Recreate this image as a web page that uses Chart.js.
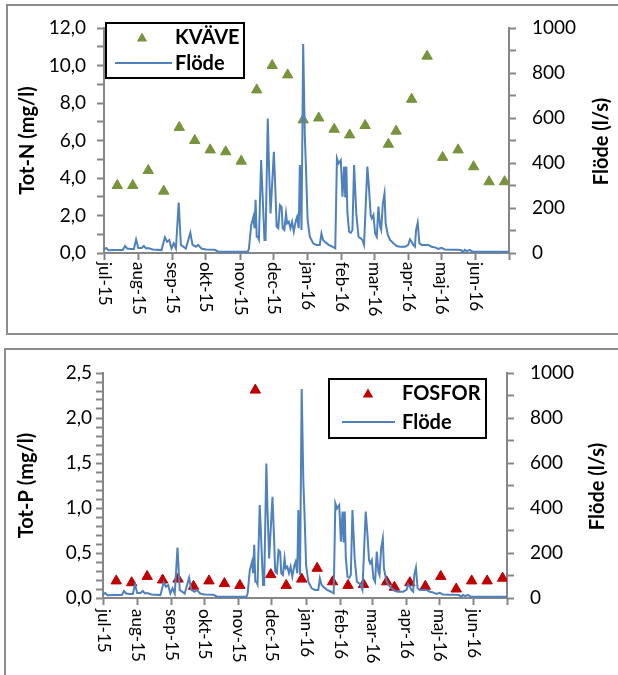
<!DOCTYPE html>
<html>
<head>
<meta charset="utf-8">
<script src="https://cdn.jsdelivr.net/npm/chart.js@4.4.1/dist/chart.umd.min.js"></script>
<style>
  html, body { margin: 0; padding: 0; background: #fff; }
  body { width: 618px; height: 675px; overflow: hidden; position: relative; }
  .panel { position: absolute; box-sizing: border-box; border: 2px solid #8c8c8c; }
  #p1 { left: 6px; top: 4px; width: 660px; height: 331px; }
  #p2 { left: 4px; top: 348px; width: 660px; height: 400px; }
  canvas { position: absolute; left: 0; }
  #c1 { top: 0; }
  #c2 { top: 340px; }
</style>
</head>
<body>
<div class="panel" id="p1"></div>
<div class="panel" id="p2"></div>
<canvas id="c1" width="618" height="340"></canvas>
<canvas id="c2" width="618" height="335"></canvas>
<script>
// provtagningar (varannan vecka)
const provDatum = [
  '2015-07-13', '2015-07-27', '2015-08-10', '2015-08-24', '2015-09-07', '2015-09-21',
  '2015-10-05', '2015-10-19', '2015-11-02', '2015-11-16', '2015-11-30', '2015-12-14',
  '2015-12-28', '2016-01-11', '2016-01-25', '2016-02-08', '2016-02-22', '2016-03-14',
  '2016-03-21', '2016-04-04', '2016-04-18', '2016-05-02', '2016-05-16', '2016-05-30',
  '2016-06-13', '2016-06-27'
];
const kvave = [3.6, 3.6, 4.4, 3.3, 6.7, 6.0, 5.5, 5.4, 4.9, 8.7, 10.0, 9.5, 7.1,
  7.2, 6.6, 6.3, 6.8, 5.8, 6.5, 8.2, 10.5, 5.1, 5.5, 4.6, 3.8, 3.8];
const fosfor = [0.19, 0.17, 0.24, 0.20, 0.21, 0.13, 0.19, 0.16, 0.14, 2.31, 0.26, 0.14, 0.21,
  0.33, 0.18, 0.14, 0.15, 0.18, 0.12, 0.17, 0.13, 0.24, 0.10, 0.19, 0.19, 0.22];

// flöde (l/s), dag räknat från 1 juli 2015
const flodeDag = [
  0, 2, 4, 10, 17, 19, 21, 24, 27, 29, 31, 34, 36, 38, 40, 44, 52,
  55, 57, 59, 61, 63, 65, 67.5, 69.5, 74, 78, 80, 83, 85, 88, 92, 100, 103, 110, 120, 130,
  131, 133, 135, 136, 137, 138, 139, 140, 142, 143, 145, 146, 148, 149, 150.5, 152, 153.5,
  155, 156, 157.5, 159, 160.5, 161.5, 163, 164.5, 165.5, 167, 168.5, 170, 171.5, 173.5,
  174.5, 176, 177, 178.5, 180, 181.5, 182.5, 184, 186, 189, 192, 195, 196.5, 198, 200.5,
  203, 206, 209, 210.5, 212, 214, 215.5, 217, 218, 219, 220, 221.5, 223, 224.5, 226, 228,
  230, 232, 233.5, 235, 238, 239.5, 241, 242, 243.5, 245, 246.5, 248, 249.5, 250.5, 252,
  253.5, 254.5, 256.5, 258.5, 261.5, 264.5, 267.5, 272, 275, 276.5, 278, 279.5, 281, 282,
  283.5, 285, 287, 293, 296, 299, 302, 305, 308, 314, 320, 323, 324.5, 326, 328, 330.5,
  333, 340, 366
];
const flodeVarde = [
  16, 22, 12, 13, 13, 31, 20, 18, 18, 60, 22, 22, 31, 20, 22, 16, 13,
  70, 50, 58, 20, 43, 20, 224, 36, 20, 90, 36, 28, 36, 20, 16, 14, 7, 6, 6, 6,
  20, 124, 161, 110, 236, 72, 72, 60, 413, 296, 58, 58, 598, 400, 176, 310, 450,
  265, 117, 110, 213, 205, 110, 102, 176, 132, 139, 110, 139, 95, 147,
  161, 110, 391, 102, 929, 517, 384, 147, 72, 43, 36, 36, 87, 58, 46,
  36, 29, 21, 421, 398, 413, 250, 384, 247, 384, 176, 95, 90, 102, 391, 176,
  72, 65, 58, 36, 384, 287, 169, 154, 169, 87, 72, 206, 117, 102, 221,
  265, 132, 80, 58, 43, 31, 28, 28, 36, 61, 50, 36, 28, 102,
  135, 43, 36, 36, 28, 25, 18, 23, 16, 14, 14, 12, 3, 14, 8, 14,
  6, 6, 6
];

const manader = ['jul-15', 'aug-15', 'sep-15', 'okt-15', 'nov-15', 'dec-15',
  'jan-16', 'feb-16', 'mar-16', 'apr-16', 'maj-16', 'jun-16'];

const start = Date.UTC(2015, 6, 1);
const DAG = 864e5;
function dagNr(s) {
  const [y, m, d] = s.split('-').map(Number);
  return (Date.UTC(y, m - 1, d) - start) / DAG;
}
const manadStart = [];
for (let i = 0; i <= 12; i++) manadStart.push((Date.UTC(2015, 6 + i, 1) - start) / DAG);

const GRA = '#868686';
const BLA = '#4F81BD';

Chart.defaults.font.family = 'Lato, Calibri, sans-serif';
Chart.defaults.color = '#000';

// månadsetiketter, vridna 90° medurs
const monthLabels = {
  id: 'monthLabels',
  afterDraw(chart, args, opts) {
    const { ctx } = chart;
    const x = chart.scales.x;
    ctx.save();
    ctx.font = '17px Lato';
    ctx.fillStyle = '#000';
    ctx.textAlign = 'left';
    ctx.textBaseline = 'middle';
    manader.forEach((txt, i) => {
      ctx.save();
      ctx.translate(x.getPixelForValue(manadStart[i]), x.top + opts.gap);
      ctx.rotate(Math.PI / 2);
      ctx.fillText(txt, 0, 0);
      ctx.restore();
    });
    ctx.restore();
  }
};

// axeltitel höger, läses nerifrån och upp
const rightTitle = {
  id: 'rightTitle',
  afterDraw(chart, args, opts) {
    const { ctx } = chart;
    const s = chart.scales.y1;
    ctx.save();
    ctx.font = 'bold 20px Lato';
    ctx.fillStyle = '#000';
    ctx.textAlign = 'center';
    ctx.textBaseline = 'middle';
    ctx.translate(s.left + opts.dx, (s.top + s.bottom) / 2 + opts.dy);
    ctx.rotate(-Math.PI / 2);
    ctx.fillText(opts.text, 0, 0);
    ctx.restore();
  }
};

function triangel(ctx, x, y, r) {
  ctx.beginPath();
  for (let k = 0; k < 3; k++) {
    const a = k * 2 * Math.PI / 3;
    const px = x + Math.sin(a) * r, py = y - Math.cos(a) * r;
    if (k === 0) ctx.moveTo(px, py); else ctx.lineTo(px, py);
  }
  ctx.closePath();
  ctx.fill();
}

// förklaringsruta med ram
const boxLegend = {
  id: 'boxLegend',
  afterDraw(chart, args, o) {
    const { ctx } = chart;
    const ds = chart.data.datasets;
    ctx.save();
    ctx.fillStyle = '#fff';
    ctx.fillRect(o.left, o.top, o.width, o.height);
    ctx.lineWidth = 2;
    ctx.strokeStyle = '#000';
    ctx.strokeRect(o.left, o.top, o.width, o.height);
    ctx.font = 'bold 20px Lato';
    ctx.textAlign = 'left';
    ctx.textBaseline = 'middle';
    ds.forEach((d, i) => {
      const y = o.rows[i];
      if (d.showLine) {
        ctx.strokeStyle = d.borderColor;
        ctx.lineWidth = d.borderWidth;
        ctx.beginPath();
        ctx.moveTo(o.line0, y);
        ctx.lineTo(o.line1, y);
        ctx.stroke();
      } else {
        ctx.fillStyle = d.backgroundColor;
        triangel(ctx, o.marker, y + 1.5, d.pointRadius);
      }
      ctx.fillStyle = '#000';
      ctx.fillText(d.label, o.text, y + 1);
    });
    ctx.restore();
  }
};

function axisStyle() {
  return {
    grid: { drawOnChartArea: false, drawTicks: true, tickLength: 7, tickWidth: 2, tickColor: GRA },
    border: { display: true, color: GRA, width: 2 }
  };
}

function rita(id, c) {
  const pkt = provDatum.map((d, i) => ({ x: dagNr(d), y: c.varden[i] }));
  const flode = flodeDag.map((d, i) => ({ x: d, y: flodeVarde[i] }));
  return new Chart(document.getElementById(id), {
    type: 'scatter',
    data: {
      datasets: [
        {
          label: c.namn,
          data: pkt,
          yAxisID: 'y',
          showLine: false,
          pointStyle: 'triangle',
          pointRadius: 6,
          pointHoverRadius: 6,
          backgroundColor: c.farg,
          borderColor: c.farg,
          pointBorderWidth: 1,
          order: 2
        },
        {
          label: 'Flöde',
          data: flode,
          yAxisID: 'y1',
          showLine: true,
          borderColor: BLA,
          backgroundColor: BLA,
          borderWidth: 2,
          pointRadius: 0,
          tension: 0,
          order: 1
        }
      ]
    },
    options: {
      responsive: false,
      animation: false,
      layout: { padding: { left: c.padLeft, top: c.padTop, right: 0, bottom: 0 } },
      scales: {
        x: {
          type: 'linear',
          min: 0,
          max: 366,
          ticks: { display: false },
          afterBuildTicks: s => { s.ticks = manadStart.map(v => ({ value: v })); },
          afterFit: s => { s.height = c.xHeight; },
          ...axisStyle()
        },
        y: {
          position: 'left',
          min: 0,
          max: c.max,
          ticks: {
            stepSize: c.step,
            autoSkip: false,
            padding: c.tickPad,
            font: { size: 19 },
            callback: v => {
              const q = v / c.major;
              return Math.abs(q - Math.round(q)) < 1e-6 ? v.toFixed(1).replace('.', ',') : '';
            }
          },
          title: {
            display: true,
            text: c.titel,
            font: { size: 20, weight: 'bold' },
            padding: { top: 4, bottom: 0 }
          },
          afterFit: s => { s.width = c.leftWidth; },
          ...axisStyle()
        },
        y1: {
          position: 'right',
          min: 0,
          max: 1000,
          ticks: {
            stepSize: 100,
            autoSkip: false,
            padding: 16,
            font: { size: 19 },
            callback: v => (v % 200 === 0 ? String(v) : '')
          },
          afterFit: s => { s.width = c.rightWidth; },
          ...axisStyle()
        }
      },
      plugins: {
        legend: { display: false },
        tooltip: { enabled: false },
        monthLabels: { gap: c.gap },
        rightTitle: { text: 'Flöde (l/s)', dx: c.titleDx, dy: c.titleDy },
        boxLegend: c.legend
      }
    },
    plugins: [monthLabels, rightTitle, boxLegend]
  });
}

document.addEventListener('DOMContentLoaded', () => {
  rita('c1', {
    namn: 'KVÄVE', varden: kvave, farg: '#77933C', titel: 'Tot-N (mg/l)',
    max: 12, step: 1, major: 2, tickPad: 11,
    padLeft: 12, padTop: 28, leftWidth: 92, rightWidth: 109, xHeight: 87, gap: 9,
    titleDx: 93, titleDy: 1,
    legend: { left: 106, top: 23, width: 138, height: 55, marker: 142, line0: 115, line1: 172, text: 175, rows: [37, 63] }
  });
  rita('c2', {
    namn: 'FOSFOR', varden: fosfor, farg: '#C00000', titel: 'Tot-P (mg/l)',
    max: 2.5, step: 0.1, major: 0.5, tickPad: 4,
    padLeft: 11, padTop: 33, leftWidth: 92, rightWidth: 111, xHeight: 77, gap: 11,
    titleDx: 91, titleDy: 1,
    legend: { left: 329, top: 39, width: 157, height: 59, marker: 368, line0: 342, line1: 395, text: 402, rows: [53, 82] }
  });
});
</script>
</body>
</html>
